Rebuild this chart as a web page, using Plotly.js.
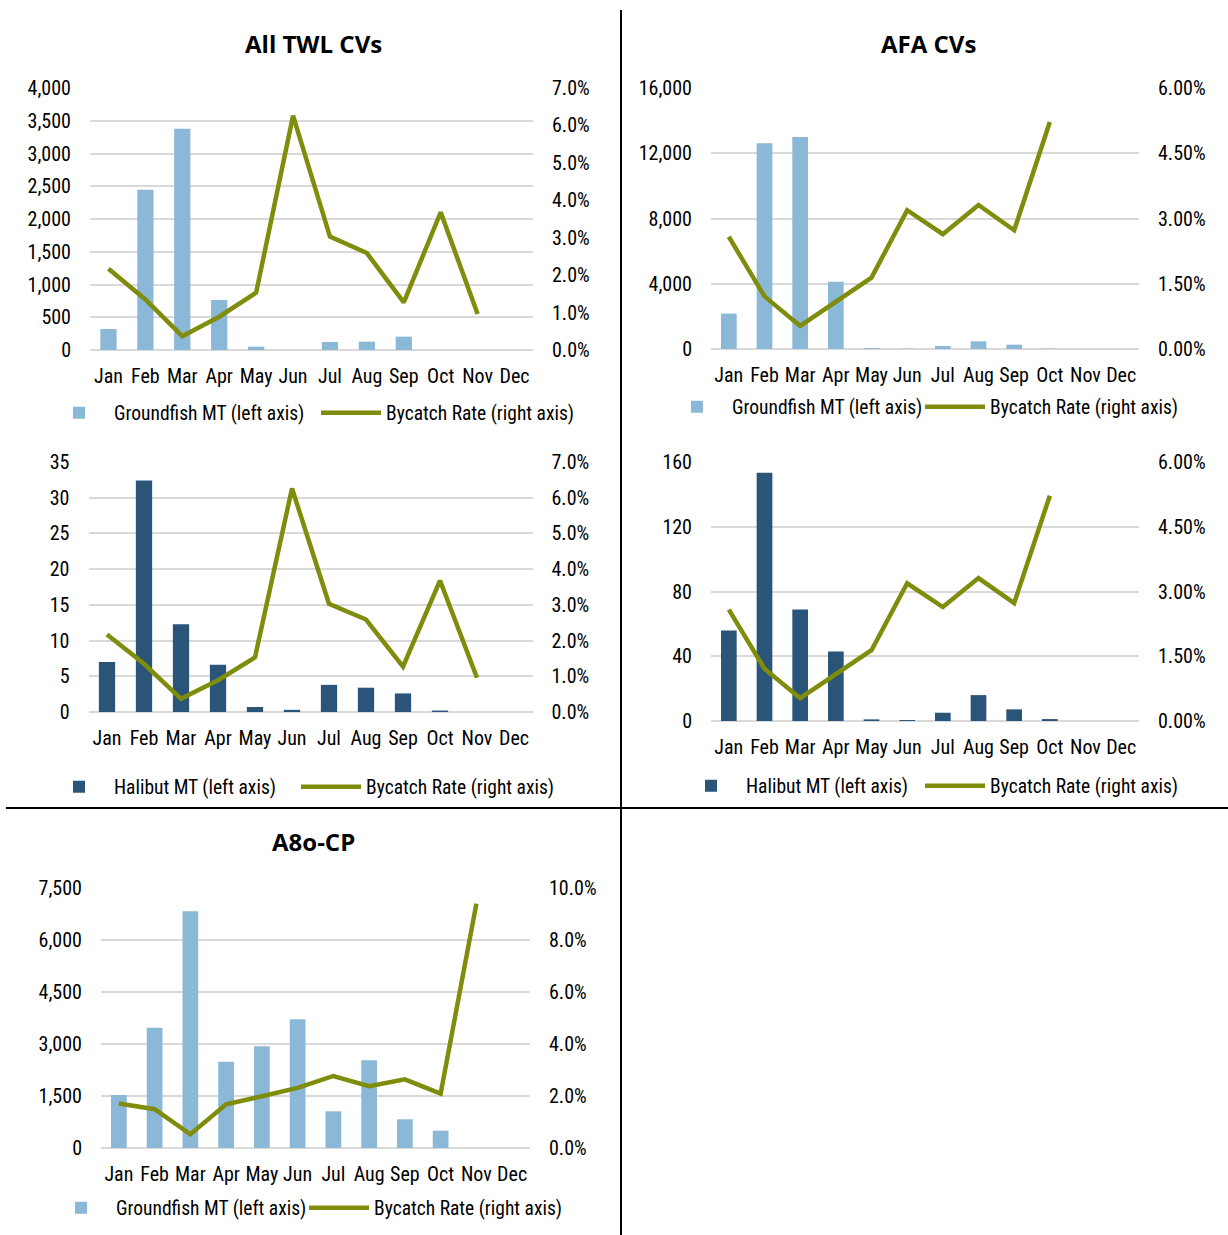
<!DOCTYPE html>
<html>
<head>
<meta charset="utf-8">
<script src="https://cdn.plot.ly/plotly-3.0.1.min.js"></script>
<style>html,body{margin:0;padding:0;background:#fff;}#chart{width:1228px;height:1235px;}</style>
</head>
<body>
<div id="chart"></div>
<script>
const months = ['Jan','Feb','Mar','Apr','May','Jun','Jul','Aug','Sep','Oct','Nov','Dec'];

const twlGroundfish = [321, 2446, 3378, 764, 51, 0, 122, 127, 204, 0, 0, 0];
const twlHalibut = [7.0, 32.4, 12.3, 6.6, 0.7, 0.3, 3.8, 3.4, 2.6, 0.2, 0, 0];
const twlRate = [0.0217, 0.0135, 0.0037, 0.0089, 0.0153, 0.0626, 0.0303, 0.0259, 0.0127, 0.0368, 0.0096, null];

const afaGroundfish = [2170, 12620, 12990, 4120, 60, 20, 184, 471, 266, 20, 0, 0];
const afaHalibut = [55.9, 153.4, 68.9, 43.0, 1.0, 0.6, 5.1, 16.0, 7.2, 1.2, 0, 0];
const afaRate = [0.0258, 0.0121, 0.0053, 0.0108, 0.0164, 0.0319, 0.0264, 0.0331, 0.0273, 0.0522, null, null];

const a80Groundfish = [1529, 3471, 6827, 2490, 2933, 3712, 1058, 2529, 827, 500, 0, 0];
const a80Rate = [0.0171, 0.0149, 0.0053, 0.0168, 0.0199, 0.0231, 0.0277, 0.0238, 0.0264, 0.0209, 0.0940, null];

const titles = ['All TWL CVs', 'AFA CVs', 'A8o-CP'];
const nameGroundfish = 'Groundfish MT (left axis)';
const nameHalibut = 'Halibut MT (left axis)';
const nameRate = 'Bycatch Rate (right axis)';

const W = 1228, H = 1235;
const LIGHT = '#8bb8d6', DARK = '#2a5578', OLIVE = '#7f8c0c', GRID = '#d9d9d9';
const NARROW = '"Liberation Sans Narrow", "Arial Narrow", "Roboto Condensed", sans-serif';

const panels = [
  {bars: twlGroundfish, barName: nameGroundfish, color: LIGHT, rate: twlRate, x: [90, 533], y: [88, 350], lrange: [0, 4000], ldtick: 500, rrange: [0, 0.07], rdtick: 0.01, rfmt: '.1%', leg: [114, 386, 413]},
  {bars: afaGroundfish, barName: nameGroundfish, color: LIGHT, rate: afaRate, x: [711, 1139], y: [88, 349], lrange: [0, 16000], ldtick: 4000, rrange: [0, 0.06], rdtick: 0.015, rfmt: '.2%', leg: [732, 990, 407]},
  {bars: twlHalibut, barName: nameHalibut, color: DARK, rate: twlRate, x: [88.5, 532.5], y: [462, 712], lrange: [0, 35], ldtick: 5, rrange: [0, 0.07], rdtick: 0.01, rfmt: '.1%', leg: [114, 366, 787]},
  {bars: afaHalibut, barName: nameHalibut, color: DARK, rate: afaRate, x: [711, 1139], y: [462, 721], lrange: [0, 160], ldtick: 40, rrange: [0, 0.06], rdtick: 0.015, rfmt: '.2%', leg: [746, 990, 786]},
  {bars: a80Groundfish, barName: nameGroundfish, color: LIGHT, rate: a80Rate, x: [101, 530], y: [888, 1148], lrange: [0, 7500], ldtick: 1500, rrange: [0, 0.10], rdtick: 0.02, rfmt: '.1%', leg: [116, 374, 1208]}
];

const data = [];
const layout = {
  width: W, height: H,
  margin: {l: 0, r: 0, t: 0, b: 0},
  paper_bgcolor: '#fff', plot_bgcolor: 'rgba(0,0,0,0)',
  bargap: 0.56,
  showlegend: true,
  font: {family: NARROW, size: 20, color: '#000'},
  annotations: [],
  shapes: []
};

function legendBox(textX, textY) {
  return {
    orientation: 'h', x: (textX - 70) / W, y: 1 - textY / H, xanchor: 'left', yanchor: 'middle',
    bgcolor: 'rgba(0,0,0,0)', font: {family: NARROW, size: 19.5, color: '#000'},
    itemwidth: 60, traceorder: 'normal', itemclick: false, itemdoubleclick: false
  };
}

panels.forEach((p, i) => {
  const n = i + 1;
  const xa = n === 1 ? 'x' : 'x' + n;
  const yl = 2 * n - 1, yr = 2 * n;
  const ylName = yl === 1 ? 'y' : 'y' + yl;
  const yrName = 'y' + yr;
  const legBar = yl === 1 ? 'legend' : 'legend' + yl;
  const legLine = 'legend' + yr;

  data.push({
    type: 'bar', x: months, y: p.bars, name: p.barName,
    xaxis: xa, yaxis: ylName, legend: legBar,
    marker: {color: p.color}, hoverinfo: 'x+y'
  });
  data.push({
    type: 'scatter', mode: 'lines', x: months, y: p.rate, name: nameRate,
    xaxis: xa, yaxis: yrName, legend: legLine,
    line: {color: OLIVE, width: 4.5}, connectgaps: false
  });

  const xdom = [p.x[0] / W, p.x[1] / W];
  const ydom = [1 - p.y[1] / H, 1 - p.y[0] / H];

  layout[n === 1 ? 'xaxis' : 'xaxis' + n] = {
    domain: xdom, anchor: ylName, type: 'category', categoryorder: 'array', categoryarray: months,
    range: [-0.5, 11.5], showgrid: false, showline: false, zeroline: false, ticks: '',
    ticklabelstandoff: 12, tickfont: {family: NARROW, size: 20, color: '#000'}, fixedrange: true
  };
  layout[yl === 1 ? 'yaxis' : 'yaxis' + yl] = {
    domain: ydom, anchor: xa, range: p.lrange, dtick: p.ldtick, tick0: 0,
    showgrid: true, gridcolor: GRID, gridwidth: 2,
    zeroline: true, zerolinecolor: GRID, zerolinewidth: 2, showline: false, ticks: '',
    tickformat: ',d', separatethousands: true, ticklabelstandoff: 18,
    tickfont: {family: NARROW, size: 20, color: '#000'}, fixedrange: true
  };
  layout['yaxis' + yr] = {
    domain: ydom, anchor: xa, overlaying: ylName, side: 'right',
    range: p.rrange, dtick: p.rdtick, tick0: 0, tickformat: p.rfmt,
    showgrid: false, zeroline: false, showline: false, ticks: '', ticklabelstandoff: 18,
    tickfont: {family: NARROW, size: 20, color: '#000'}, fixedrange: true
  };
  layout[legBar] = legendBox(p.leg[0], p.leg[2]);
  layout[legLine] = legendBox(p.leg[1], p.leg[2]);
});

const titlePos = [[313, 43], [928, 43], [313, 842]];
titles.forEach((t, i) => {
  layout.annotations.push({
    text: '<b>' + t + '</b>', xref: 'paper', yref: 'paper',
    x: titlePos[i][0] / W, y: 1 - titlePos[i][1] / H, xanchor: 'center', yanchor: 'middle',
    showarrow: false, font: {family: '"Open Sans", sans-serif', size: 24, color: '#000'}
  });
});

layout.shapes.push({type: 'line', xref: 'paper', yref: 'paper', x0: 621 / W, x1: 621 / W, y0: 0, y1: 1 - 10 / H, line: {color: '#000', width: 2}});
layout.shapes.push({type: 'line', xref: 'paper', yref: 'paper', x0: 6 / W, x1: 1, y0: 1 - 808 / H, y1: 1 - 808 / H, line: {color: '#000', width: 2}});

Plotly.newPlot('chart', data, layout, {displayModeBar: false, staticPlot: true});
</script>
</body>
</html>
